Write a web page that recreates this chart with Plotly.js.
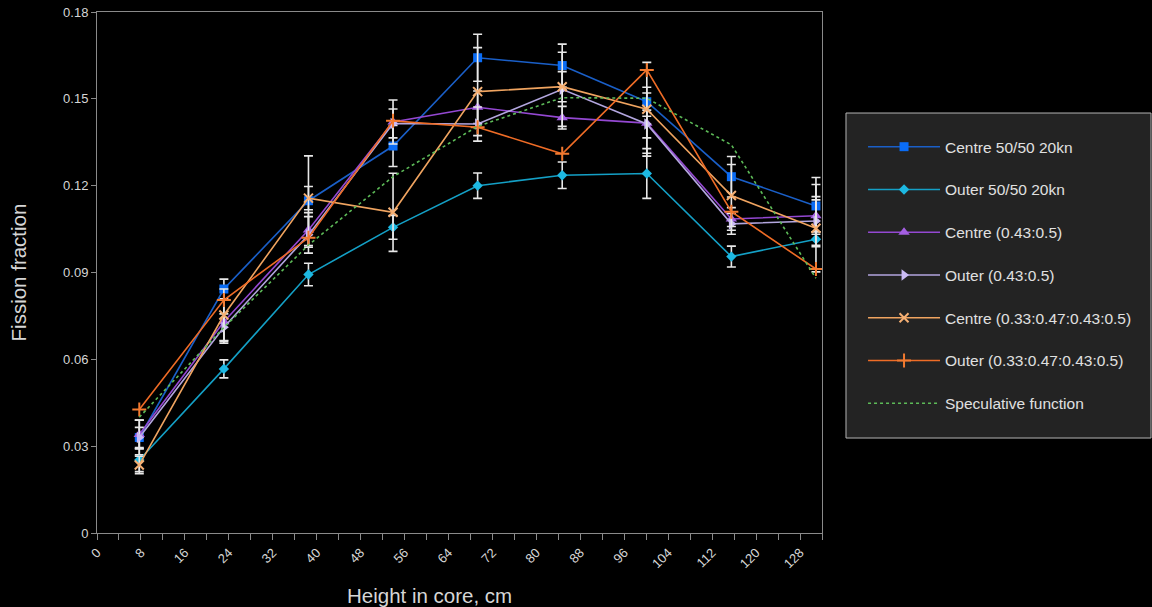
<!DOCTYPE html>
<html>
<head>
<meta charset="utf-8">
<script src="https://cdn.plot.ly/plotly-3.0.1.min.js"></script>
<style>
  html, body { margin: 0; padding: 0; background: #000; }
  #chart { width: 1152px; height: 607px; }
</style>
</head>
<body>
<div id="chart"></div>
<script>
// Segment centre heights (cm)
const heights = [7.7, 23.1, 38.5, 53.9, 69.3, 84.7, 100.1, 115.5, 130.9];

// Fission fraction per segment
const centre5050 = [0.0330, 0.0843, 0.1148, 0.1337, 0.1642, 0.1615, 0.1490, 0.1231, 0.1130];
const outer5050  = [0.0252, 0.0567, 0.0893, 0.1056, 0.1200, 0.1236, 0.1242, 0.0955, 0.1015];
const centre043  = [0.0340, 0.0730, 0.1047, 0.1420, 0.1471, 0.1435, 0.1416, 0.1085, 0.1096];
const outer043   = [0.0330, 0.0711, 0.1030, 0.1415, 0.1413, 0.1533, 0.1413, 0.1068, 0.1078];
const centre033  = [0.0235, 0.0753, 0.1157, 0.1108, 0.1525, 0.1542, 0.1464, 0.1166, 0.1053];
const outer033   = [0.0427, 0.0805, 0.1020, 0.1424, 0.1402, 0.1310, 0.1600, 0.1110, 0.0912];
const speculative = [0.0400, 0.0710, 0.0995, 0.1231, 0.1405, 0.1504, 0.1502, 0.1341, 0.0880];

// Measurement uncertainties (+/-)
const errCentre5050 = [0.0060, 0.0034, 0.0155, 0.0071, 0.0081, 0.0074, 0.0050, 0.0070, 0.0098];
const errOuter5050  = [0.0040, 0.0031, 0.0039, 0.0041, 0.0044, 0.0046, 0.0086, 0.0036, 0.0026];
const errCentre043  = [0.0050, 0.0074, 0.0060, 0.0076, 0.0056, 0.0039, 0.0104, 0.0039, 0.0055];
const errOuter043   = [0.0035, 0.0046, 0.0063, 0.0050, 0.0059, 0.0128, 0.0048, 0.0036, 0.0084];
const errCentre033  = [0.0030, 0.0090, 0.0040, 0.0135, 0.0152, 0.0052, 0.0162, 0.0107, 0.0151];

const seriesNames = [
  'Centre 50/50 20kn',
  'Outer 50/50 20kn',
  'Centre (0.43:0.5)',
  'Outer (0.43:0.5)',
  'Centre (0.33:0.47:0.43:0.5)',
  'Outer (0.33:0.47:0.43:0.5)',
  'Speculative function'
];

const xTitle = 'Height in core, cm';
const yTitle = 'Fission fraction';

const FONT = 'Liberation Sans, Arial, sans-serif';
const TEXT = '#d6d6d6';
const AXIS = '#8a8a8a';

function errBars(arr) {
  return { type: 'data', array: arr, visible: true, color: '#e8e8e8', thickness: 1.6, width: 4.5 };
}

function measured(i, y, err, lineColor, markerColor, symbol, size) {
  const t = {
    type: 'scatter', mode: 'lines+markers', name: seriesNames[i],
    legendgroup: 'g' + i,
    x: heights, y: y,
    line: { color: lineColor, width: 1.6 },
    marker: { color: markerColor, symbol: symbol, size: size,
              line: { color: markerColor, width: symbol.indexOf('thin') >= 0 ? 2 : 0 } }
  };
  if (err) t.error_y = errBars(err);
  return t;
}

const traces = [
  measured(0, centre5050, errCentre5050, '#1a5fc8', '#0a6cf5', 'square', 9),
  measured(1, outer5050,  errOuter5050,  '#14a0c6', '#1db8e2', 'diamond', 8),
  measured(2, centre043,  errCentre043,  '#9448d2', '#a45fe2', 'triangle-up', 10),
  measured(3, outer043,   errOuter043,   '#b3a6df', '#cbbcf6', 'triangle-right', 10),
  measured(4, centre033,  errCentre033,  '#f0a460', '#f6b074', 'x-thin', 9),
  measured(5, outer033,   null,          '#ef6c26', '#f27a30', 'cross-thin', 10),
  {
    type: 'scatter', mode: 'lines', name: seriesNames[6], legendgroup: 'g6',
    x: heights, y: speculative,
    line: { color: '#5dbb58', width: 1.6, dash: 'dot' }
  }
];

const layout = {
  width: 1152, height: 607,
  paper_bgcolor: '#000', plot_bgcolor: '#000',
  margin: { l: 97, r: 330, t: 12, b: 74 },
  font: { family: FONT, color: TEXT, size: 13 },
  showlegend: true,
  // legend panel
  shapes: [{
    type: 'rect', xref: 'paper', yref: 'paper',
    x0: 1.0331, x1: 1.4538, y0: 0.1823, y1: 0.8061,
    fillcolor: '#232323', line: { color: '#b4b4b4', width: 1 }, layer: 'below'
  }],
  legend: {
    x: 1.0566, xanchor: 'left', y: 0.7733, yanchor: 'top',
    bgcolor: 'rgba(0,0,0,0)', borderwidth: 0,
    font: { family: FONT, size: 15.5, color: '#e0e0e0' },
    traceorder: 'grouped', tracegroupgap: 19.6, itemwidth: 72
  },
  // horizontal axis caption, set slightly left of the plot centre
  annotations: [{
    text: xTitle, xref: 'paper', yref: 'paper',
    x: 0.458, y: -0.1209, xanchor: 'center', yanchor: 'middle',
    showarrow: false, font: { family: FONT, size: 20.5, color: TEXT }
  }],
  xaxis: {
    range: [0, 132], tick0: 0, dtick: 8, tickangle: -45,
    showgrid: false, zeroline: false,
    showline: true, linecolor: AXIS, linewidth: 1, mirror: true,
    ticks: 'outside', ticklen: 6, tickcolor: AXIS,
    minor: { dtick: 4, ticks: 'outside', ticklen: 6, tickcolor: AXIS, showgrid: false },
    tickfont: { family: FONT, size: 13, color: TEXT }
  },
  yaxis: {
    range: [0, 0.18], tick0: 0, dtick: 0.03,
    showgrid: false, zeroline: false,
    showline: true, linecolor: AXIS, linewidth: 1, mirror: true,
    ticks: 'outside', ticklen: 5, tickcolor: AXIS,
    tickfont: { family: FONT, size: 13, color: TEXT },
    title: { text: yTitle, font: { family: FONT, size: 20.5, color: TEXT }, standoff: 30 }
  }
};

Plotly.newPlot('chart', traces, layout, { displayModeBar: false, staticPlot: true });
</script>
</body>
</html>
